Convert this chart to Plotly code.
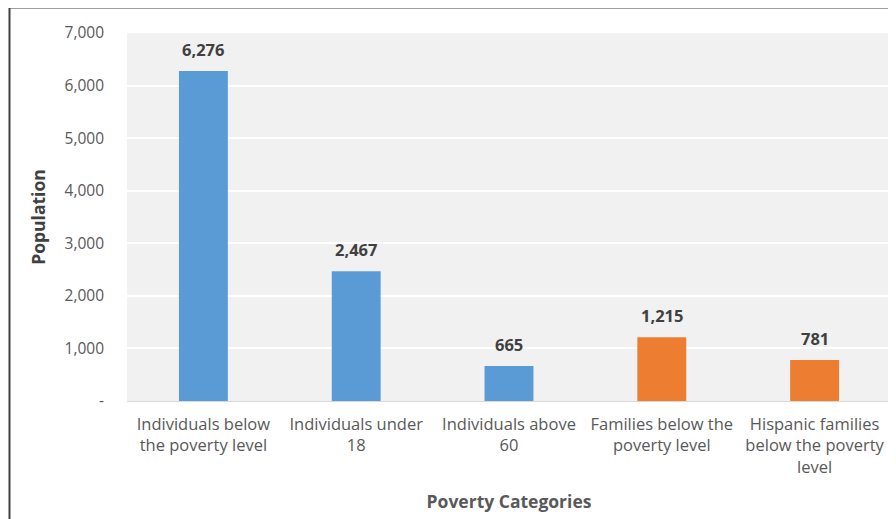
import plotly.graph_objects as go

categories = ["Individuals below<br>the poverty level", "Individuals under<br>18",
              "Individuals above<br>60", "Families below the<br>poverty level",
              "Hispanic families<br>below the poverty<br>level"]
values = [6276, 2467, 665, 1215, 781]
colors = ["#5B9BD5", "#5B9BD5", "#5B9BD5", "#ED7D31", "#ED7D31"]
tick_vals = [0, 1000, 2000, 3000, 4000, 5000, 6000, 7000]
tick_text = ["-", "1,000", "2,000", "3,000", "4,000", "5,000", "6,000", "7,000"]

FONT = "Open Sans"

fig = go.Figure(go.Bar(x=categories, y=values, marker_color=colors, marker_line_width=0))

for c, v in zip(categories, values):
    fig.add_annotation(x=c, y=v, text=f"<b>{v:,}</b>", showarrow=False, yanchor="bottom",
                       yshift=8, font=dict(family=FONT, size=16.5, color="#404040"))

# page body has 8px margin: figure is 888x511 and positions are offset accordingly
fig.add_shape(type="rect", xref="paper", yref="paper", x0=-0.1538, x1=1.2, y0=-0.5, y1=1.0693,
              line=dict(color="#404040", width=2), fillcolor="rgba(0,0,0,0)", layer="below")

fig.update_layout(
    width=888, height=511,
    margin=dict(l=119, r=5, t=25, b=118),
    paper_bgcolor="white", plot_bgcolor="#F1F1F1",
    bargap=0.68, showlegend=False,
    font=dict(family=FONT, size=16, color="#595959"),
    xaxis=dict(title=dict(text="<b>Poverty Categories</b>", font=dict(size=17.5, color="#595959"), standoff=19),
               showline=True, linecolor="#D9D9D9", linewidth=1, ticks="", tickfont=dict(size=16.5),
               ticklabelstandoff=8),
    yaxis=dict(range=[0, 7000], tickvals=tick_vals, ticktext=tick_text, gridcolor="white", gridwidth=2,
               zeroline=False, ticks="", tickfont=dict(size=15.5), ticklabelstandoff=22,
               title=dict(text="<b>Population</b>", font=dict(size=17.5, color="#404040"), standoff=14)),
)

fig.write_html("out.html")
